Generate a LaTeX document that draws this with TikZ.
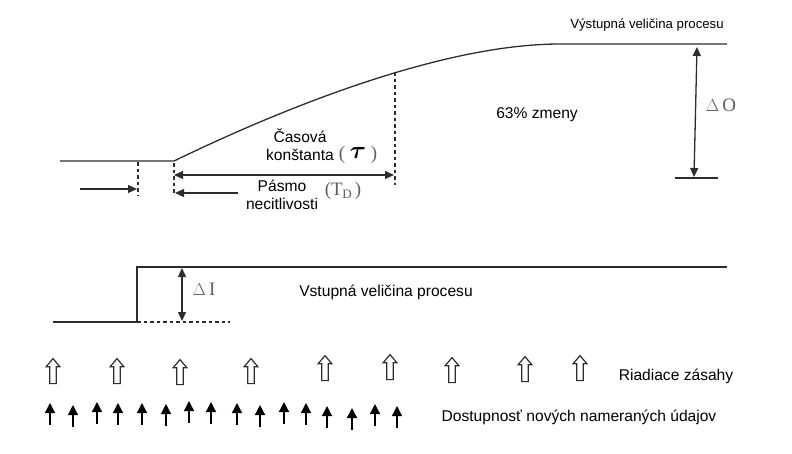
\documentclass[tikz,border=0pt]{standalone}
\usepackage{bm}
\usepackage{fontspec}
\setmainfont{Liberation Sans}
\newfontfamily\symfont{Liberation Serif}
\usepackage{xcolor}
\usepackage{tikz}
\usetikzlibrary{positioning, arrows.meta, shapes.arrows}
\definecolor{linegray}{RGB}{45,45,45}
\definecolor{symgray}{RGB}{95,95,95}

\begin{document}
\begin{tikzpicture}[x=1pt, y=-1pt,
  line/.style={line width=1.3pt, color=linegray},
  dim/.style={line width=1.1pt, color=linegray, dash pattern=on 3.5pt off 3pt},
  arr/.style={line, -{Triangle[length=9pt,width=8pt]}},
  darr/.style={line, {Triangle[length=9pt,width=8pt]}-{Triangle[length=9pt,width=8pt]}},
  lbl/.style={font=\fontsize{15.6}{18}\selectfont, inner sep=0pt, align=center},
  sym/.style={font=\symfont\fontsize{19}{20}\selectfont, text=symgray, inner sep=0pt},
  hollow/.style={single arrow, draw=linegray, line width=1.2pt, rotate=90, minimum height=25pt,
    inner sep=2.6pt, single arrow head extend=3.6pt, single arrow tip angle=80},
  tick/.style={line width=1.3pt, color=black, -{Triangle[length=10pt,width=10pt]}}]
  \useasboundingbox (0,0) rectangle (792,453);

  % output of the process
  \coordinate (o0) at (60,161);
  \coordinate (o1) at (174,161);
  \coordinate (o2) at (560,44);
  \coordinate (o3) at (727,44);
  \draw[line] (o0) -- (o1) .. controls (300,100) and (450,44) .. (o2) -- (o3);
  \node[lbl, font=\fontsize{13.2}{16}\selectfont] (outlbl) at (647,25) {Výstupná veličina procesu};
  \node[lbl] (pct) at (537,115) {63\% zmeny};

  % dead time and time constant
  \coordinate (d1t) at (138,162);
  \coordinate (d1b) at (138,195);
  \coordinate (d2t) at (174,163);
  \coordinate (d2b) at (174,195);
  \coordinate (d3t) at (395,72);
  \coordinate (d3b) at (395,185);
  \draw[dim] (d1t) -- (d1b);
  \draw[dim] (d2t) -- (d2b);
  \draw[dim] (d3t) -- (d3b);
  \coordinate (ta) at (174,175);
  \coordinate (tb) at (394,175);
  \draw[darr] (ta) -- (tb);
  \coordinate (pa) at (80,189);
  \coordinate (pb) at (137,189);
  \draw[arr] (pa) -- (pb);
  \coordinate (qa) at (238,193);
  \coordinate (qb) at (175,193);
  \draw[arr] (qa) -- (qb);
  \node[lbl] (tconst) at (300,145) {Časová\\konštanta};
  \node[sym] (tau) at (358,155)
    {( \raisebox{0.1ex}{\fontsize{24}{25}\selectfont\color{black}$\bm{\tau}$} )};
  \node[lbl] (dead) at (282,195) {Pásmo\\necitlivosti};
  \node[sym] (td) at (343,191) {(T\kern-0.5pt\raisebox{-0.3ex}{\fontsize{13}{14}\selectfont D}\,)};

  % output change
  \coordinate (oa) at (697,47);
  \coordinate (ob) at (694,177);
  \draw[darr] (oa) -- (ob);
  \coordinate (ba) at (675,178);
  \coordinate (bb) at (718,178);
  \draw[line] (ba) -- (bb);
  \node[sym] (dO) at (721,105) {$\Delta$\,O};

  % input of the process
  \coordinate (i0) at (53,322);
  \coordinate (i1) at (137,322);
  \coordinate (i2) at (137,267);
  \coordinate (i3) at (727,267);
  \draw[line] (i0) -- (i1) -- (i2) -- (i3);
  \coordinate (i4) at (230,322);
  \draw[dim] (i1) -- (i4);
  \coordinate (ia) at (182,268);
  \coordinate (ib) at (182,321);
  \draw[darr] (ia) -- (ib);
  \node[sym] (dI) at (204,289) {$\Delta$\,I};
  \node[lbl] (inlbl) at (386,292) {Vstupná veličina procesu};

  % control moves
  \foreach \x/\y [count=\i] in {53/373,117/373,180/374,251/373,325/370,390/369,452/372,525/371,580/370}
    \node[hollow] (cm\i) at (\x,\y) {};
  \node[lbl] (cmlbl) at (676,376) {Riadiace zásahy};

  % new measurements
  \foreach \x/\y [count=\i] in {50/403,73/405,97/402,118/403,142/403,166/404,189/401,211/402,
                                237/403,260/405,284/402,306/403,327/406,352/408,375/404,397/406} {
    \coordinate (mb\i) at (\x,\y+22);
    \coordinate (mt\i) at (\x,\y);
    \draw[tick] (mb\i) -- (mt\i);
  }
  \node[lbl] (mlbl) at (579,417) {Dostupnosť nových nameraných údajov};
\end{tikzpicture}
\end{document}
